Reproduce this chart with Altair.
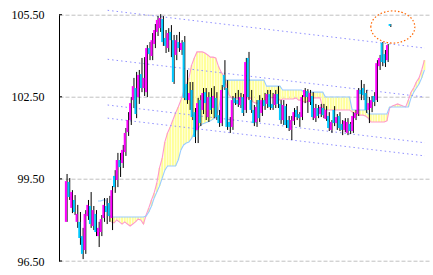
import altair as alt
import pandas as pd

# ---- candle data (price units) ----
opens = [97.93, 99.39, 98.44, 98.73, 97.93, 97.93, 97.41, 96.90, 98.14, 98.51,
         97.78, 98.22, 97.41, 97.56, 98.07, 98.51, 98.62, 98.07, 99.61, 99.46,
         100.19, 100.08, 100.48, 101.21, 101.65, 102.38, 102.82, 102.49, 103.33, 102.82,
         102.67, 104.28, 103.99, 104.43, 104.87, 105.01, 105.34, 104.65, 104.28, 104.87,
         104.57, 104.03, 104.50, 104.21, 104.50, 102.97, 102.38, 102.75, 101.94, 101.29,
         102.38, 102.02, 102.67, 101.76, 102.49, 102.09, 102.46, 101.83, 101.54, 103.30,
         102.82, 101.58, 101.40, 102.46, 102.38, 102.20, 102.49, 102.02, 103.92, 102.38,
         102.02, 101.58, 102.38, 101.91, 102.38, 102.24, 102.60, 102.24, 102.20, 102.60,
         102.24, 101.65, 102.16, 101.65, 101.29, 101.62, 102.02, 101.87, 101.76, 102.49,
         102.71, 102.31, 102.53, 101.72, 102.09, 101.87, 102.09, 101.69, 101.80, 101.29,
         102.02, 101.54, 101.80, 101.51, 101.29, 101.18, 101.51, 101.25, 101.72, 101.87,
         102.75, 102.82, 102.64, 102.02, 102.09, 102.53, 102.38, 103.62, 104.47, 104.06,
         103.84, 105.16]
closes = [99.42, 98.84, 99.02, 98.29, 98.22, 97.34, 96.76, 98.22, 98.55, 97.85,
          98.36, 97.56, 97.71, 98.03, 98.55, 98.29, 98.14, 99.09, 99.20, 100.19,
          99.93, 100.56, 101.18, 101.65, 102.27, 102.89, 101.87, 103.30, 102.82, 103.19,
          104.28, 104.06, 104.57, 104.94, 105.31, 105.38, 104.50, 104.36, 104.83, 104.57,
          103.04, 104.57, 104.28, 104.47, 102.46, 102.38, 102.64, 101.76, 101.03, 102.27,
          101.54, 102.64, 102.27, 102.49, 102.02, 102.53, 101.76, 101.54, 102.75, 102.86,
          101.40, 101.40, 102.38, 102.27, 102.24, 102.49, 101.91, 103.77, 102.49, 102.02,
          101.54, 102.13, 101.72, 102.38, 102.16, 102.60, 102.13, 102.09, 102.60, 102.24,
          101.65, 102.20, 101.47, 101.36, 101.65, 101.94, 101.76, 101.72, 102.49, 102.75,
          102.49, 102.64, 101.76, 102.09, 101.80, 102.13, 101.83, 102.02, 101.36, 101.58,
          101.54, 101.76, 101.36, 101.29, 101.62, 101.58, 101.25, 101.80, 101.91, 102.75,
          102.60, 102.56, 102.02, 102.27, 102.38, 102.31, 103.73, 103.92, 103.77, 103.73,
          104.39, 105.09]
highs = [99.68, 99.53, 99.09, 98.91, 98.55, 98.29, 97.71, 98.36, 98.73, 99.02,
         98.51, 98.36, 97.93, 98.18, 98.80, 98.80, 98.88, 99.24, 99.82, 100.45,
         100.45, 100.74, 101.36, 101.94, 102.49, 103.19, 103.41, 103.48, 103.92, 103.95,
         104.39, 104.50, 104.83, 105.16, 105.45, 105.52, 105.45, 104.94, 105.01, 105.12,
         104.76, 104.76, 104.87, 104.57, 104.72, 103.48, 103.04, 103.04, 102.09, 102.46,
         102.56, 102.82, 102.82, 102.67, 102.82, 102.89, 102.67, 102.02, 102.93, 103.84,
         103.11, 101.76, 102.53, 102.64, 102.75, 102.64, 102.60, 103.92, 104.14, 102.75,
         102.20, 102.38, 102.56, 102.46, 102.64, 102.75, 102.75, 102.64, 102.75, 102.89,
         102.38, 102.38, 102.24, 101.80, 101.80, 102.09, 102.16, 101.94, 102.56, 102.82,
         102.78, 102.75, 102.67, 102.24, 102.20, 102.24, 102.24, 102.16, 101.94, 101.65,
         102.16, 101.87, 101.94, 101.65, 101.72, 101.72, 101.58, 101.94, 102.02, 102.82,
         103.11, 102.97, 102.75, 102.49, 102.53, 102.67, 103.84, 104.03, 104.50, 104.21,
         104.43, 105.16]
lows = [97.93, 98.73, 98.25, 98.18, 97.71, 97.09, 96.57, 96.76, 98.00, 97.71,
        97.63, 97.41, 97.01, 97.41, 97.93, 97.85, 97.93, 97.63, 98.99, 99.20,
        99.57, 99.90, 100.34, 101.07, 101.47, 102.09, 101.72, 102.24, 102.67, 102.53,
        102.49, 103.84, 103.84, 104.28, 104.72, 104.87, 104.36, 104.10, 104.14, 103.95,
        102.97, 103.84, 104.14, 104.03, 102.38, 102.24, 102.02, 101.65, 100.81, 100.81,
        101.43, 101.87, 101.65, 101.58, 101.87, 101.72, 101.65, 101.40, 101.43, 102.75,
        101.29, 101.18, 101.29, 102.20, 102.13, 102.09, 101.80, 101.91, 102.38, 101.91,
        101.43, 101.40, 101.58, 101.80, 102.02, 102.09, 102.02, 102.02, 102.09, 102.09,
        101.51, 101.47, 101.36, 101.25, 100.92, 101.47, 101.65, 101.40, 101.65, 102.27,
        101.91, 102.20, 101.65, 101.58, 101.72, 101.76, 101.72, 101.62, 101.25, 101.18,
        101.43, 101.29, 101.25, 101.10, 101.21, 101.10, 101.14, 101.18, 101.65, 101.80,
        102.38, 102.38, 101.91, 101.54, 101.94, 102.16, 102.31, 103.48, 103.62, 103.59,
        103.77, 105.05]

# ---- cloud spans ----
span_a_start = 17
span_a = [97.93, 97.89, 98.00, 97.93, 97.85, 97.93, 97.85, 97.78, 97.85, 97.93,
          98.03, 98.00, 97.85, 98.18, 98.44, 98.73, 98.99, 99.35, 99.90, 100.26,
          100.85, 101.18, 101.40, 101.65, 101.91, 102.13, 102.38, 102.67, 102.93, 103.19,
          103.66, 103.92, 104.14, 104.14, 104.14, 104.10, 104.03, 103.95, 103.95, 103.92,
          103.62, 103.41, 103.26, 102.93, 102.56, 102.46, 102.46, 102.46, 102.46, 102.46,
          102.46, 102.46, 102.46, 102.31, 102.27, 102.27, 102.27, 102.27, 102.49, 102.53,
          102.46, 102.49, 102.46, 102.38, 102.42, 102.42, 102.42, 102.42, 102.42, 102.46,
          102.38, 102.38, 102.31, 102.31, 102.38, 102.46, 102.46, 102.46, 102.46, 102.09,
          102.02, 102.02, 102.02, 102.02, 102.02, 102.02, 102.02, 102.02, 102.02, 102.02,
          101.94, 101.91, 101.83, 101.83, 101.83, 101.80, 101.72, 101.58, 101.58, 101.58,
          101.58, 101.58, 101.58, 101.62, 102.09, 102.16, 102.20, 102.24, 102.20, 102.16,
          102.13, 102.38, 102.67, 102.82, 103.04, 103.19, 103.48, 103.84]
span_b_start = 12
span_b = [98.69, 98.69, 98.73, 98.73, 98.22, 98.11, 98.11, 98.11, 98.11, 98.11,
          98.11, 98.11, 98.11, 98.11, 98.11, 98.11, 98.11, 98.11, 98.14, 98.29,
          98.51, 98.80, 99.02, 99.24, 99.53, 99.82, 99.97, 99.97, 99.97, 99.97,
          100.19, 100.56, 100.74, 100.81, 100.85, 100.99, 101.18, 101.29, 101.43, 101.51,
          101.54, 101.58, 101.62, 101.69, 101.76, 102.02, 102.56, 102.93, 103.11, 103.11,
          103.11, 103.11, 103.11, 103.11, 103.11, 103.11, 103.11, 103.11, 103.11, 103.11,
          103.11, 103.11, 103.11, 102.89, 102.89, 102.89, 102.89, 102.89, 102.89, 102.75,
          102.75, 102.75, 102.75, 102.75, 102.75, 102.75, 102.75, 102.67, 102.67, 102.67,
          102.67, 102.67, 102.67, 102.67, 102.67, 102.49, 102.49, 102.49, 102.49, 102.49,
          102.49, 102.49, 102.49, 102.49, 102.49, 102.02, 102.02, 102.02, 102.02, 102.02,
          102.02, 101.87, 101.87, 101.87, 101.87, 101.87, 101.87, 101.87, 101.87, 102.13,
          102.13, 102.13, 102.13, 102.13, 102.13, 102.13, 102.13, 102.46, 102.67, 102.82,
          102.97, 103.19, 103.48]

# ---- trend channel lines (index, price) ----
trend_x = [15.6, 134.2]
trend_start = [105.66, 103.87, 102.20, 101.72]
trend_end = [104.28, 102.49, 100.82, 100.34]

y_ticks = [96.5, 99.5, 102.5, 105.5]
marker_i = [122.2]
marker_price = [105.05]

# ---- tables ----
n = len(opens)
cdf = pd.DataFrame({"i": list(range(n)), "open": opens, "high": highs,
                    "low": lows, "close": closes})
cdf["dir"] = ["up" if c >= o else "down" for o, c in zip(opens, closes)]

adf = pd.DataFrame({"i": [span_a_start + k for k in range(len(span_a))], "a": span_a})
bdf = pd.DataFrame({"i": [span_b_start + k for k in range(len(span_b))], "b": span_b})
cloud = adf.merge(bdf, on="i")

rows = []
for k, (s, e) in enumerate(zip(trend_start, trend_end)):
    rows.append({"i": trend_x[0], "p": s, "line": k})
    rows.append({"i": trend_x[1], "p": e, "line": k})
tdf = pd.DataFrame(rows)

tickdf = pd.DataFrame({"p": y_ticks})
mdf = pd.DataFrame({"i": marker_i, "p": marker_price})

xs = alt.Scale(domain=[-0.7, 133.85], nice=False, zero=False)
ys = alt.Scale(domain=[96.5, 105.5], nice=False, zero=False)
yaxis = alt.Axis(values=y_ticks, format=".2f", title=None, grid=True,
                 gridColor="#c0c0c0", gridDash=[4, 2], gridWidth=1,
                 tickSize=0, domainColor="black", domainWidth=1,
                 labelPadding=15, labelFont="Liberation Sans Narrow",
                 labelFontSize=12, labelColor="black")

def X(f="i"):
    return alt.X(f"{f}:Q", scale=xs, axis=None)

cloud_bars = alt.Chart(cloud).mark_bar(size=2, color="#ffff99").encode(
    x=X(), y=alt.Y("a:Q", scale=ys, axis=yaxis), y2="b:Q")

line_a = alt.Chart(adf).mark_line(color="#ff99cc", strokeWidth=1.1).encode(
    x=X(), y=alt.Y("a:Q", scale=ys, axis=yaxis))
line_b = alt.Chart(bdf).mark_line(color="#99ccff", strokeWidth=1.1).encode(
    x=X(), y=alt.Y("b:Q", scale=ys, axis=yaxis))

trend = alt.Chart(tdf).mark_line(color="#9090ff", strokeWidth=1,
                                 strokeDash=[1.5, 3]).encode(
    x=X(), y=alt.Y("p:Q", scale=ys, axis=yaxis), detail="line:N")

ticks = alt.Chart(tickdf).mark_rule(color="black", strokeWidth=1).encode(
    y=alt.Y("p:Q", scale=ys, axis=yaxis), x=alt.value(0), x2=alt.value(3))

wicks = alt.Chart(cdf).mark_rule(color="black", strokeWidth=1, xOffset=1.2).encode(
    x=X(), y=alt.Y("low:Q", scale=ys, axis=yaxis), y2="high:Q")

bodies = alt.Chart(cdf).mark_bar(size=2).encode(
    x=X(), y=alt.Y("open:Q", scale=ys, axis=yaxis), y2="close:Q",
    color=alt.Color("dir:N", scale=alt.Scale(domain=["up", "down"],
                                             range=["#ff00ff", "#00c8ff"]),
                    legend=None))

ellipse_path = "M -1 0 A 1 0.73 0 1 1 1 0 A 1 0.73 0 1 1 -1 0 Z"
marker = alt.Chart(mdf).mark_point(shape=ellipse_path, size=1936, filled=False,
                                   stroke="#ff6600", strokeWidth=1.2,
                                   strokeDash=[1.5, 2], opacity=1).encode(
    x=X(), y=alt.Y("p:Q", scale=ys, axis=yaxis))

chart = alt.layer(cloud_bars, line_a, line_b, trend, ticks, wicks, bodies, marker).properties(
    width=370, height=246.3,
    padding={"left": 59, "top": 14.7, "right": 4, "bottom": 14},
    autosize=alt.AutoSizeParams(type="none"),
    background="white",
).configure_view(stroke=None)

chart.save("out.html", embed_options={"renderer": "svg", "actions": False})
